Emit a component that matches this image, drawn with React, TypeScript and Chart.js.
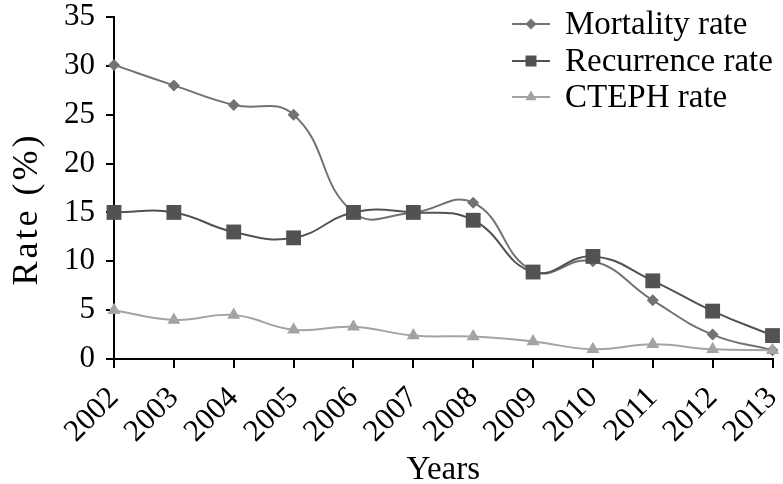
import React, { useEffect, useRef } from 'react';
import { Chart, registerables } from 'chart.js';

Chart.register(...registerables);

const years = ['2002', '2003', '2004', '2005', '2006', '2007', '2008', '2009', '2010', '2011', '2012', '2013'];
const mortalityRate = [30.1, 28, 26, 25, 15, 15, 16, 9, 10, 6, 2.5, 0.9];
const recurrenceRate = [15, 15, 13, 12.4, 15, 15, 14.2, 8.9, 10.5, 8, 4.9, 2.4];
const ctephRate = [5, 4, 4.5, 3, 3.3, 2.4, 2.3, 1.8, 1, 1.5, 1, 0.9];
const seriesNames = ['Mortality rate', 'Recurrence rate', 'CTEPH rate'];
const seriesColors = ['#727272', '#525252', '#a3a3a3'];
const seriesMarkers = ['rectRot', 'rect', 'triangle'];
const yAxisTitle = 'Rate (%)';
const xAxisTitle = 'Years';

const FONT = '"Liberation Serif", "Times New Roman", serif';

const legendPlugin = {
  id: 'customLegend',
  afterDraw(chart: any) {
    const ctx = chart.ctx;
    const rows = [24, 61, 97];
    const lineX0 = 512;
    const lineX1 = 550;
    const cx = 531;
    ctx.save();
    chart.data.datasets.forEach((ds: any, i: number) => {
      const y = rows[i];
      ctx.strokeStyle = ds.borderColor;
      ctx.lineWidth = 2;
      ctx.beginPath();
      ctx.moveTo(lineX0, y);
      ctx.lineTo(lineX1, y);
      ctx.stroke();
      ctx.fillStyle = ds.pointBackgroundColor;
      ctx.beginPath();
      if (ds.pointStyle === 'rectRot') {
        const r = 5.5;
        ctx.moveTo(cx, y - r);
        ctx.lineTo(cx + r, y);
        ctx.lineTo(cx, y + r);
        ctx.lineTo(cx - r, y);
        ctx.closePath();
      } else if (ds.pointStyle === 'rect') {
        const s = 11;
        ctx.rect(cx - s / 2, y - s / 2, s, s);
      } else {
        const r = 6.5;
        ctx.moveTo(cx, y - r);
        ctx.lineTo(cx + r * 0.866, y + r * 0.5);
        ctx.lineTo(cx - r * 0.866, y + r * 0.5);
        ctx.closePath();
      }
      ctx.fill();
      ctx.fillStyle = '#000';
      ctx.font = `33px ${FONT}`;
      ctx.textBaseline = 'middle';
      ctx.textAlign = 'left';
      ctx.fillText(ds.label, 565, y + 1);
    });

    // y axis title
    ctx.save();
    ctx.translate(28, 209);
    ctx.rotate(-Math.PI / 2);
    ctx.font = `36px ${FONT}`;
    try {
      (ctx as any).letterSpacing = '3px';
    } catch (e) {}
    ctx.fillStyle = '#000';
    ctx.textAlign = 'center';
    ctx.textBaseline = 'middle';
    ctx.fillText(yAxisTitle, 0, 0);
    ctx.restore();

    ctx.restore();
  },
};

export default function App() {
  const canvasRef = useRef<HTMLCanvasElement | null>(null);

  useEffect(() => {
    if (!canvasRef.current) return;
    const values = [mortalityRate, recurrenceRate, ctephRate];
    const radii = [6, 10.5, 7.5];
    const orders = [2, 1, 0];
    const chart = new Chart(canvasRef.current, {
      type: 'line',
      data: {
        labels: years,
        datasets: values.map((v, i) => ({
          label: seriesNames[i],
          data: v,
          borderColor: seriesColors[i],
          backgroundColor: seriesColors[i],
          pointBackgroundColor: seriesColors[i],
          pointBorderColor: seriesColors[i],
          pointBorderWidth: 0,
          pointStyle: seriesMarkers[i] as any,
          pointRadius: radii[i],
          borderWidth: 2,
          tension: 0.45,
          fill: false,
          clip: false as any,
          order: orders[i],
        })),
      },
      options: {
        animation: false,
        responsive: false,
        maintainAspectRatio: false,
        layout: { padding: { top: 17, right: 8, left: 0, bottom: 0 } },
        plugins: {
          legend: { display: false },
          tooltip: { enabled: false },
        },
        scales: {
          x: {
            offset: false,
            grid: {
              display: true,
              drawOnChartArea: false,
              drawTicks: true,
              tickLength: 9,
              color: '#000',
              lineWidth: 2,
            },
            border: { display: true, color: '#000', width: 2 },
            ticks: {
              color: '#000',
              font: { family: FONT, size: 31 },
              minRotation: 45,
              maxRotation: 45,
              autoSkip: false,
              padding: 12,
            },
            title: {
              display: true,
              text: xAxisTitle,
              color: '#000',
              font: { family: FONT, size: 33, lineHeight: 0.85 },
              padding: { top: 0, bottom: 0 },
            },
            afterFit(scale: any) {
              scale.height = 125;
              scale.paddingLeft = 0;
              scale.paddingRight = 0;
            },
          },
          y: {
            min: 0,
            max: 35,
            grid: {
              display: true,
              drawOnChartArea: false,
              drawTicks: true,
              tickLength: 8,
              color: '#000',
              lineWidth: 2,
            },
            border: { display: true, color: '#000', width: 2 },
            ticks: {
              stepSize: 5,
              color: '#000',
              font: { family: FONT, size: 31 },
              padding: 11,
            },
            afterFit(scale: any) {
              scale.width = 114;
              scale.paddingTop = 0;
              scale.paddingBottom = 0;
            },
          },
        },
      },
      plugins: [legendPlugin],
    });
    return () => chart.destroy();
  }, []);

  return (
    <div style={{ position: 'absolute', left: 0, top: 0, width: 783, height: 484, background: '#fff' }}>
      <canvas ref={canvasRef} width={783} height={484} />
    </div>
  );
}
